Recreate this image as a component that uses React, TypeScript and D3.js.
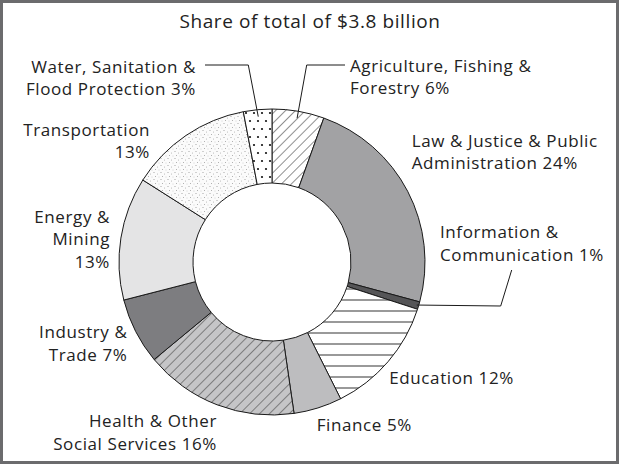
import React from 'react';
import * as d3 from 'd3';

const sectors = [
  'Agriculture', 'Law', 'Information', 'Education', 'Finance',
  'Health', 'Industry', 'Energy', 'Transportation', 'Water',
];
const shares = [5.5, 23.7, 0.8, 12.6, 5.1, 16.3, 7.0, 13.0, 13.0, 3.0];
const labelLines = [
  ['Agriculture, Fishing &', 'Forestry 6%'],
  ['Law & Justice & Public', 'Administration 24%'],
  ['Information &', 'Communication 1%'],
  ['Education 12%'],
  ['Finance 5%'],
  ['Health & Other', 'Social Services 16%'],
  ['Industry &', 'Trade 7%'],
  ['Energy &', 'Mining', '13%'],
  ['Transportation', '13%'],
  ['Water, Sanitation &', 'Flood Protection 3%'],
];
const title = 'Share of total of $3.8 billion';

// label placement: [x, first baseline, anchor]
const labelPos: [number, number, string][] = [
  [350, 71.7, 'start'],
  [411.7, 146.7, 'start'],
  [440, 238.3, 'start'],
  [389.3, 384, 'start'],
  [316.7, 431, 'start'],
  [217, 427.3, 'end'],
  [127.5, 338.3, 'end'],
  [110, 222.7, 'end'],
  [150, 136, 'end'],
  [196, 72.7, 'end'],
];

const fills = [
  'url(#hatchA)', '#a2a2a4', '#555557', 'url(#horiz)', '#bdbdbf',
  'url(#hatchH)', '#7d7d80', '#e4e4e5', 'url(#stipple)', 'url(#dots)',
];

const W = 619, H = 464;
const cx = 272, cy = 262;
const rOuter = 153, rInner = 79;
const lineH = 22.4;
const font = "'Open Sans', 'Noto Sans', sans-serif";

export default function App() {
  const pie = d3.pie<number>().sort(null).value(d => d);
  const arcs = pie(shares);
  const arc = d3.arc<d3.PieArcDatum<number>>().innerRadius(rInner).outerRadius(rOuter);

  const at = (i: number, r: number): [number, number] => {
    const a = (arcs[i].startAngle + arcs[i].endAngle) / 2;
    return [cx + r * Math.sin(a), cy - r * Math.cos(a)];
  };

  // leader lines for the small slices
  const iAg = sectors.indexOf('Agriculture');
  const iWa = sectors.indexOf('Water');
  const iIn = sectors.indexOf('Information');
  const agEnd = at(iAg, 146);
  const waEnd = at(iWa, 146);
  const inEnd = at(iIn, 151);
  const line = d3.line();
  const leaders = [
    line([[345, 65], [306.7, 65], agEnd]),
    line([[205, 65], [248.3, 65], waEnd]),
    line([[511.7, 270], [500.7, 306], inEnd]),
  ];

  return (
    <svg width={W} height={H} style={{ position: 'absolute', left: 0, top: 0 }}
      fontFamily={font}>
      <defs>
        <pattern id="hatchA" width={7} height={7} patternUnits="userSpaceOnUse"
          patternTransform="rotate(45)">
          <rect width={7} height={7} fill="#fff" />
          <line x1={0} y1={0} x2={0} y2={7} stroke="#222" strokeWidth={1} />
        </pattern>
        <pattern id="hatchH" width={7} height={7} patternUnits="userSpaceOnUse"
          patternTransform="rotate(45)">
          <rect width={7} height={7} fill="#c5c5c7" />
          <line x1={0} y1={0} x2={0} y2={7} stroke="#333" strokeWidth={1} />
        </pattern>
        <pattern id="horiz" width={11} height={11} patternUnits="userSpaceOnUse">
          <rect width={11} height={11} fill="#fff" />
          <line x1={0} y1={5} x2={11} y2={5} stroke="#333" strokeWidth={1} />
        </pattern>
        <pattern id="dots" width={8} height={16} patternUnits="userSpaceOnUse">
          <rect width={8} height={16} fill="#fff" />
          <circle cx={2} cy={3} r={1.1} fill="#111" />
          <circle cx={6} cy={11} r={1.1} fill="#111" />
        </pattern>
        <pattern id="stipple" width={7} height={7} patternUnits="userSpaceOnUse">
          <rect width={7} height={7} fill="#fbfbfb" />
          <circle cx={1} cy={1.5} r={0.55} fill="#999" />
          <circle cx={4.5} cy={3} r={0.5} fill="#aaa" />
          <circle cx={2.5} cy={5.5} r={0.5} fill="#999" />
          <circle cx={6} cy={6} r={0.45} fill="#aaa" />
        </pattern>
      </defs>

      <rect x={1.5} y={1.5} width={W - 3} height={H - 3} fill="#fff"
        stroke="#6b6b6d" strokeWidth={3} />

      <text x={310} y={28} textAnchor="middle" fontSize={19} letterSpacing={0.6}
        fill="#222">{title}</text>

      <g transform={`translate(${cx},${cy})`}>
        {arcs.map((a, i) => (
          <path key={sectors[i]} d={arc(a) || ''} fill={fills[i]}
            stroke="#1a1a1a" strokeWidth={1} strokeLinejoin="round" />
        ))}
      </g>

      {leaders.map((d, i) => (
        <path key={i} d={d || ''} fill="none" stroke="#1a1a1a" strokeWidth={1} />
      ))}

      {labelLines.map((lines, i) => {
        const [x, y, anchor] = labelPos[i];
        return (
          <text key={sectors[i]} x={x} y={y} textAnchor={anchor} fontSize={17}
            letterSpacing={0.6} fill="#222">
            {lines.map((t, j) => (
              <tspan key={j} x={x} y={y + j * lineH}>{t}</tspan>
            ))}
          </text>
        );
      })}
    </svg>
  );
}
